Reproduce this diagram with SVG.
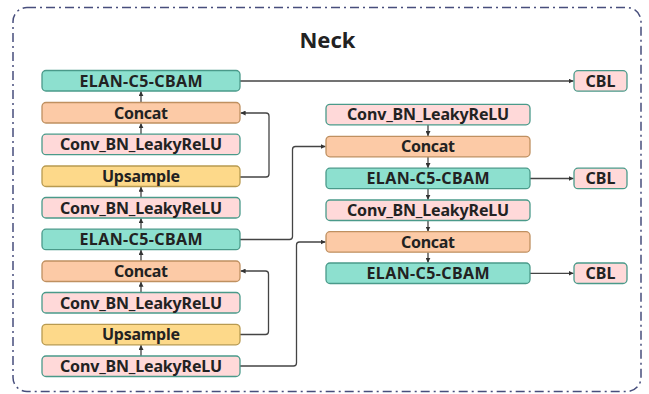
<svg xmlns="http://www.w3.org/2000/svg" width="649" height="394" viewBox="0 0 649 394">
  <style>
    .box { stroke-width: 1.3; }
    .elan { fill: #8de0cf; stroke: #4a9a8a; }
    .concat { fill: #fccaa6; stroke: #bf9060; }
    .conv { fill: #ffd9d9; stroke: #4a9a8a; }
    .up { fill: #fdd98a; stroke: #b89a50; }
    .lbl { font-family: "Noto Sans", "Open Sans", "DejaVu Sans", sans-serif; font-weight: 700; font-size: 16px; fill: #222; text-anchor: middle; }
    .title { font-family: "Noto Sans", "Open Sans", "DejaVu Sans", sans-serif; font-weight: 700; font-size: 22px; fill: #222; text-anchor: middle; }
    .wire { fill: none; stroke: #444; stroke-width: 1.3; marker-end: url(#ah); }
  </style>
  <defs>
    <marker id="ah" viewBox="0 0 6 6" refX="6" refY="3" markerWidth="5" markerHeight="5" markerUnits="userSpaceOnUse" orient="auto">
      <path d="M0,0 L6,3 L0,6 Z" fill="#333"/>
    </marker>
  </defs>

  <!-- outer frame -->
  <rect x="13" y="7.5" width="628" height="384" rx="14" fill="#fff" stroke="#474e7c" stroke-width="1.5" stroke-dasharray="9 4 2 4"/>
  <text class="title" x="327.5" y="48">Neck</text>

  <!-- connectors -->
  <g id="connectors">
    <!-- left column, bottom-up -->
    <path class="wire" d="M141 356 V345"/>
    <path class="wire" d="M141 292.5 V281.7"/>
    <path class="wire" d="M141 261 V249.9"/>
    <path class="wire" d="M141 229.2 V218.2"/>
    <path class="wire" d="M141 197.5 V186.7"/>
    <path class="wire" d="M141 134.2 V123.2"/>
    <path class="wire" d="M141 102.5 V91.2"/>
    <!-- upsample skips -->
    <path class="wire" d="M240 177 H266 Q269 177 269 174 V116 Q269 113 266 113 H240.6"/>
    <path class="wire" d="M240 334.5 H265.5 Q268.5 334.5 268.5 331.5 V274 Q268.5 271 265.5 271 H240.6"/>
    <!-- left to right -->
    <path class="wire" d="M240 81 H573.5"/>
    <path class="wire" d="M240 239.5 H289.5 Q292.5 239.5 292.5 236.5 V149.5 Q292.5 146.5 295.5 146.5 H325.5"/>
    <path class="wire" d="M240 366 H293.5 Q296.5 366 296.5 363 V245 Q296.5 242 299.5 242 H325.5"/>
    <!-- right column, top-down -->
    <path class="wire" d="M428 124.8 V136.1"/>
    <path class="wire" d="M428 156.8 V168"/>
    <path class="wire" d="M428 188.7 V199.8"/>
    <path class="wire" d="M428 220.5 V231.5"/>
    <path class="wire" d="M428 252.2 V262.8"/>
    <!-- outputs -->
    <path class="wire" d="M530 178.5 H573.5"/>
    <path class="wire" d="M530 273.3 H573.5"/>
  </g>

  <!-- left column -->
  <g id="l_elan_top"><rect class="box elan" x="42" y="70.5" width="198" height="20.5" rx="4"/><text class="lbl" x="141" y="86.6" textLength="123">ELAN-C5-CBAM</text></g>
  <g id="l_concat_top"><rect class="box concat" x="42" y="102.5" width="198" height="20.5" rx="4"/><text class="lbl" x="141" y="118.5" textLength="54">Concat</text></g>
  <g id="l_conv_a"><rect class="box conv" x="42" y="134.2" width="198" height="20.5" rx="4"/><text class="lbl" x="141" y="150.2" textLength="162">Conv_BN_LeakyReLU</text></g>
  <g id="l_up_top"><rect class="box up" x="42" y="166" width="198" height="20.5" rx="4"/><text class="lbl" x="141" y="182" textLength="78">Upsample</text></g>
  <g id="l_conv_b"><rect class="box conv" x="42" y="197.5" width="198" height="20.5" rx="4"/><text class="lbl" x="141" y="213.5" textLength="162">Conv_BN_LeakyReLU</text></g>
  <g id="l_elan_mid"><rect class="box elan" x="42" y="229.2" width="198" height="20.5" rx="4"/><text class="lbl" x="141" y="245.2" textLength="123">ELAN-C5-CBAM</text></g>
  <g id="l_concat_low"><rect class="box concat" x="42" y="261" width="198" height="20.5" rx="4"/><text class="lbl" x="141" y="277" textLength="54">Concat</text></g>
  <g id="l_conv_c"><rect class="box conv" x="42" y="292.5" width="198" height="20.5" rx="4"/><text class="lbl" x="141" y="308.5" textLength="162">Conv_BN_LeakyReLU</text></g>
  <g id="l_up_low"><rect class="box up" x="42" y="324.3" width="198" height="20.5" rx="4"/><text class="lbl" x="141" y="340.3" textLength="78">Upsample</text></g>
  <g id="l_conv_d"><rect class="box conv" x="42" y="356" width="198" height="20.5" rx="4"/><text class="lbl" x="141" y="372" textLength="162">Conv_BN_LeakyReLU</text></g>

  <!-- right column -->
  <g id="r_conv_a"><rect class="box conv" x="326" y="104.3" width="204" height="20.5" rx="4"/><text class="lbl" x="428" y="120.3" textLength="162">Conv_BN_LeakyReLU</text></g>
  <g id="r_concat_a"><rect class="box concat" x="326" y="136.3" width="204" height="20.5" rx="4"/><text class="lbl" x="428" y="152.3" textLength="54">Concat</text></g>
  <g id="r_elan_a"><rect class="box elan" x="326" y="168.2" width="204" height="20.5" rx="4"/><text class="lbl" x="428" y="184.2" textLength="123">ELAN-C5-CBAM</text></g>
  <g id="r_conv_b"><rect class="box conv" x="326" y="200" width="204" height="20.5" rx="4"/><text class="lbl" x="428" y="216" textLength="162">Conv_BN_LeakyReLU</text></g>
  <g id="r_concat_b"><rect class="box concat" x="326" y="231.7" width="204" height="20.5" rx="4"/><text class="lbl" x="428" y="247.7" textLength="54">Concat</text></g>
  <g id="r_elan_b"><rect class="box elan" x="326" y="263" width="204" height="20.5" rx="4"/><text class="lbl" x="428" y="279" textLength="123">ELAN-C5-CBAM</text></g>

  <!-- outputs -->
  <g id="cbl_1"><rect class="box conv" x="574" y="70.7" width="53" height="20.5" rx="4"/><text class="lbl" x="600.5" y="86.7" textLength="30">CBL</text></g>
  <g id="cbl_2"><rect class="box conv" x="574" y="168.2" width="53" height="20.5" rx="4"/><text class="lbl" x="600.5" y="184.2" textLength="30">CBL</text></g>
  <g id="cbl_3"><rect class="box conv" x="574" y="263" width="53" height="20.5" rx="4"/><text class="lbl" x="600.5" y="279" textLength="30">CBL</text></g>
</svg>
